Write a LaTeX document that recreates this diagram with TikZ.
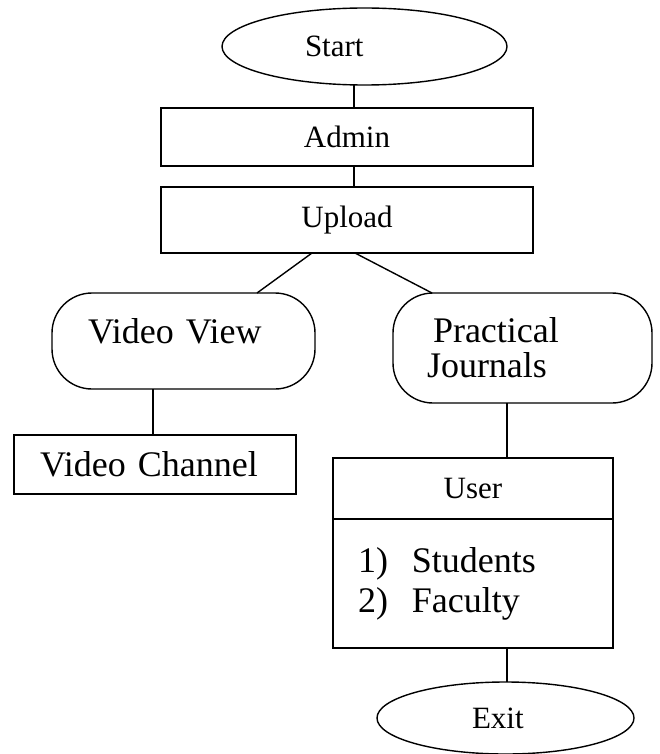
\documentclass[tikz,border=0pt]{standalone}
\usepackage{fontspec}
\setmainfont{Liberation Serif}
\usepackage{tikz}
\usetikzlibrary{positioning, shapes.geometric}

\begin{document}
\begin{tikzpicture}[
        x=1pt, y=1pt,
        line width=1.4pt,
        every node/.style={font=\fontsize{31}{34}\selectfont, outer sep=0pt, inner sep=0pt},
        bigfont/.style={font=\fontsize{36}{35}\selectfont},
        terminal/.style={ellipse, draw, minimum width=257pt, minimum height=72pt, align=left},
        stepbox/.style={rectangle, draw, minimum width=372pt, align=center},
        roundbox/.style={rectangle, rounded corners=40pt, draw, bigfont, text width=191pt, align=left},
        line/.style={-}
    ]
        \useasboundingbox (0,0) rectangle (659,-754);

        \node[terminal, minimum width=285pt, minimum height=77pt, text width=119pt] (start) at (364.5,-46.5) {Start};
        \node[stepbox, minimum height=58pt, below=23pt of start, xshift=-17.5pt] (admin) {Admin};
        \node[stepbox, minimum height=66pt, below=21pt of admin] (upload) {Upload};

        \node[roundbox, minimum width=263pt, minimum height=96pt, text height=25pt, text depth=21pt] (view) at (183.5,-341) {Video View};
        \node[roundbox, minimum width=259pt, minimum height=110pt] (practical) at (522.5,-348) {\hspace*{6pt}Practical\\Journals};

        \node[rectangle, draw, bigfont, minimum width=282pt, minimum height=59pt, text width=230pt, align=left, below=46pt of view, xshift=-28.5pt] (channel) {Video Channel};

        \node[rectangle, draw, minimum width=280pt, minimum height=61pt, below=55pt of practical, xshift=-49.5pt] (user) {User};
        \node[rectangle, draw, bigfont, minimum width=280pt, minimum height=129pt, text width=230pt, align=left, below=0pt of user] (roles) {\makebox[54pt][l]{1)}Students\\[5pt]\makebox[54pt][l]{2)}Faculty};
        \node[terminal, text width=67pt, below=34pt of roles, xshift=32.5pt] (exit) {Exit};

        \draw[line] ([xshift=-10.5pt]start.south) -- ([xshift=7pt]admin.north);
        \draw[line] ([xshift=7pt]admin.south) -- ([xshift=7pt]upload.north);
        \draw[line] ([xshift=-35pt]upload.south) -- ([xshift=73.5pt]view.north);
        \draw[line] ([xshift=8pt]upload.south) -- ([xshift=-90.5pt]practical.north);
        \draw[line] ([xshift=-30.5pt]view.south) -- ([xshift=-2pt]channel.north);
        \draw[line] ([xshift=-15.5pt]practical.south) -- ([xshift=34pt]user.north);
        \draw[line] ([xshift=34pt]roles.south) -- ([xshift=1.5pt]exit.north);
    \end{tikzpicture}
\end{document}
